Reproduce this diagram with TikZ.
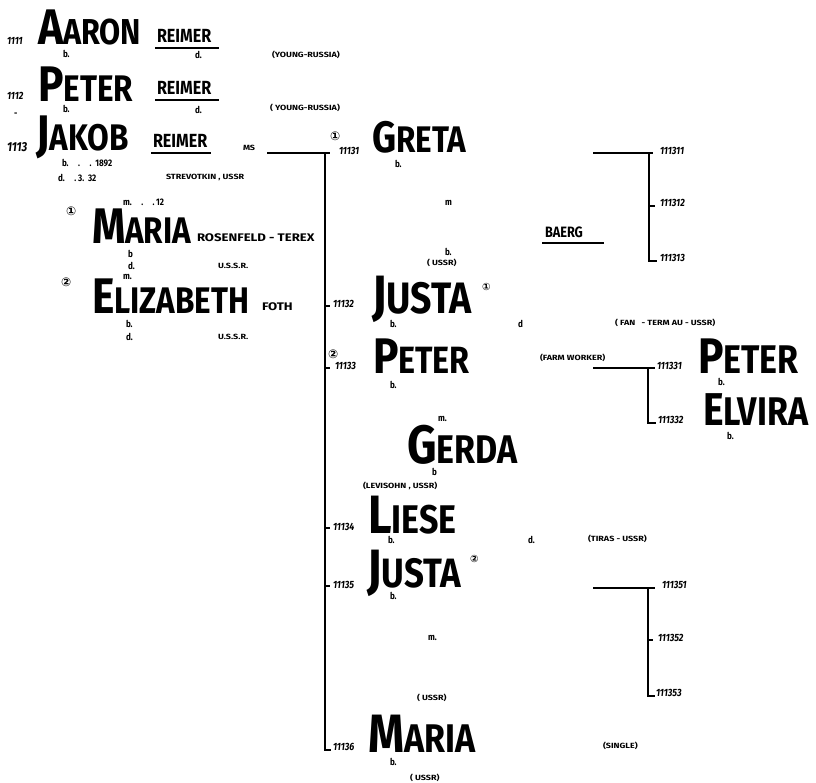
\documentclass[tikz,border=0pt]{standalone}
\usepackage{fontspec}
\setmainfont{Fira Sans}
\newfontfamily\hand[FakeStretch=0.85]{Fira Sans}
\newfontfamily\handwide[FakeStretch=1.2]{Fira Sans}
\newfontfamily\handnum[FakeStretch=0.85]{Fira Sans}
\newfontfamily\symf{DejaVu Sans}

% name in hand lettering: enlarged initial, then the rest
\newcommand\nmx[4]{{\hand\bfseries\fontsize{#1}{#1}\selectfont#3}{\hand\bfseries\fontsize{#2}{#2}\selectfont#4}}
\newcommand\nm[2]{\nmx{50}{37}{#1}{#2}}

\tikzset{
  every node/.style={inner sep=0pt, outer sep=0pt, anchor=base west},
  person/.style={text depth=0pt},
  tagno/.style={font=\handnum\bfseries\itshape\fontsize{10.5}{10.5}\selectfont},
  note/.style={font=\hand\bfseries\fontsize{9.5}{9.5}\selectfont, text depth=0pt},
  tinynote/.style={font=\handwide\bfseries\fontsize{7.5}{7.5}\selectfont},
  surname/.style={font=\hand\bfseries\fontsize{19}{19}\selectfont},
  midname/.style={font=\handwide\bfseries\fontsize{11}{11}\selectfont},
  circ/.style={font=\symf\bfseries\fontsize{12}{12}\selectfont},
  supcirc/.style={font=\symf\bfseries\fontsize{10}{10}\selectfont},
  link/.style={line width=1.4pt},
  under/.style={line width=1.2pt},
}

\begin{document}
\begin{tikzpicture}[x=1pt,y=-1pt]
\useasboundingbox (0,0) rectangle (816,783);

% ---------- generation 1111 - 1113 ----------
\node[tagno] (t1111) at (7,45) {1111};
\node[person] (aaron) at (38,45) {\nmx{50}{36}{A}{ARON}};
\node[note] (aaronb) at (63,58) {b.};
\node[surname] (reimerA) at (157,43) {REIMER};
\draw[under] (reimerA.base west) ++(-2,5) -- ++(64,0);
\node[note] (aarond) at (195,59) {d.};
\node[tinynote] (aaronp) at (272,58) {(YOUNG-RUSSIA)};

\node[tagno] (t1112) at (7,100) {1112};
\node[note] (dash) at (14,117) {-};
\node[person] (peterA) at (38,102) {\nm{P}{ETER}};
\node[note] (peterAb) at (63,113) {b.};
\node[surname] (reimerB) at (157,95) {REIMER};
\draw[under] (reimerB.base west) ++(-2,5) -- ++(64,0);
\node[note] (peterAd) at (195,114) {d.};
\node[tinynote] (peterAp) at (270,111) {( YOUNG-RUSSIA)};

\node[tagno,font=\handnum\bfseries\itshape\fontsize{13}{13}\selectfont] (t1113) at (7,152) {1113};
\node[person] (jakob) at (36,151) {\nm{J}{AKOB}};
\node[surname] (reimerC) at (153,148) {REIMER};
\draw[under] (reimerC.base west) ++(-2,5) -- ++(60,0);
\node[tinynote] (ms) at (243,151) {MS};
\node[note] (jakobb) at (62,167) {b.\quad.\quad.\ \ 1892};
\node[note] (jakobd) at (58,182) {d.\quad.\ 3.\ \ 32};
\node[tinynote] (jakobp) at (166,180) {STREVOTKIN , USSR};

% ---------- wives ----------
\node[circ] (w1) at (66,216) {①};
\node[note] (w1m) at (123,206) {m.\quad.\quad.\,12};
\node[person] (maria1) at (92,244) {\nmx{50}{37}{M}{ARIA}};
\node[midname] (maria1s) at (197,242) {ROSENFELD - TEREX};
\node[note] (maria1b) at (128,258) {b};
\node[note] (maria1d) at (128,270) {d.};
\node[tinynote] (maria1p) at (218,269) {U.S.S.R.};

\node[circ] (w2) at (61,287) {②};
\node[note] (w2m) at (123,280) {m.};
\node[person] (eliz) at (92,314) {\nmx{50}{37}{E}{LIZABETH}};
\node[midname] (foth) at (262,311) {FOTH};
\node[note] (elizb) at (126,327) {b.};
\node[note] (elizd) at (126,341) {d.};
\node[tinynote] (elizp) at (218,339) {U.S.S.R.};

% ---------- children 11131 - 11136 ----------
\coordinate (msend) at (267,153);
\coordinate (trunk) at (325,153);
\coordinate (trunkend) at (325,750);

\node[circ] (c1) at (330,141) {①};
\node[tagno] (t11131) at (339,155) {11131};
\node[person] (greta) at (372,153) {\nmx{44}{37}{G}{RETA}};
\node[note] (gretab) at (395,168) {b.};
\node[note] (gretam) at (445,206) {m};
\node[surname,font=\hand\bfseries\fontsize{15}{15}\selectfont] (baerg) at (545,238) {BAERG};
\draw[under] (baerg.base west) ++(-3,5) -- ++(62,0);
\node[note] (gretab2) at (445,256) {b.};
\node[tinynote] (gretap) at (427,266) {( USSR)};

\node[tagno] (t11132) at (333,308) {11132};
\node[person] (justa1) at (372,314) {\nmx{54}{44}{J}{USTA}};
\node[supcirc] (justa1c) at (482,291) {①};
\node[note] (justa1b) at (390,328) {b.};
\node[note] (justa1d) at (518,327) {d};
\node[tinynote] (justa1p) at (615,326) {( FAN \ \ - TERM AU - USSR)};

\node[circ] (c2) at (328,358) {②};
\node[tagno] (t11133) at (335,370) {11133};
\node[person] (peterB) at (373,373) {\nmx{50}{38}{P}{ETER}};
\node[note] (peterBb) at (390,388) {b.};
\node[tinynote] (peterBp) at (540,360) {(FARM WORKER)};
\node[note] (peterBm) at (438,421) {m.};
\node[person] (gerda) at (407,463) {\nmx{54}{40}{G}{ERDA}};
\node[note] (gerdab) at (432,475) {b};
\node[tinynote] (gerdap) at (363,488) {(LEVISOHN , USSR)};

\node[tagno] (t11134) at (333,530) {11134};
\node[person] (liese) at (368,533) {\nmx{54}{40}{L}{IESE}};
\node[note] (lieseb) at (388,543) {b.};
\node[note] (liesed) at (528,543) {d.};
\node[tinynote] (liesep) at (588,541) {(TIRAS - USSR)};

\node[tagno] (t11135) at (333,588) {11135};
\node[person] (justa2) at (367,587) {\nmx{54}{41}{J}{USTA}};
\node[supcirc] (justa2c) at (470,562) {②};
\node[note] (justa2b) at (390,599) {b.};
\node[note] (justa2m) at (428,640) {m.};
\node[tinynote] (justa2p) at (417,700) {( USSR)};

\node[tagno] (t11136) at (333,750) {11136};
\node[person] (maria2) at (368,752) {\nmx{54}{40}{M}{ARIA}};
\node[note] (maria2b) at (390,765) {b.};
\node[tinynote] (maria2p) at (410,780) {( USSR)};
\node[tinynote] (maria2s) at (603,748) {(SINGLE)};

% trunk line with ticks to each child
\draw[link] (msend) -- (trunk) -- ([xshift=5pt]trunk);
\draw[link] (trunk) -- (trunkend) -- ([xshift=-2pt]t11136.base west);
\foreach \c in {t11132,t11133,t11134,t11135}
  \draw[link] (trunk |- \c.base west) ++(0,-2) -- ++(5,0);

% ---------- grandchildren ----------
% of 11131
\coordinate (g1a) at (593,153);
\coordinate (g1b) at (649,153);
\node[tagno] (t111311) at (660,155) {111311};
\node[tagno] (t111312) at (660,207) {111312};
\node[tagno] (t111313) at (660,262) {111313};
\draw[link] (g1a) -- (g1b) -- ([xshift=4pt]g1b);
\draw[link] (g1b) -- (g1b |- t111313.base west) ++(0,-1) -- ([xshift=-3pt,yshift=1pt]t111313.base west);
\draw[link] (g1b |- t111312.base west) ++(0,-1) -- ++(6,0);

% of 11133
\coordinate (g3a) at (593,368);
\coordinate (g3b) at (648,368);
\node[tagno] (t111331) at (657,370) {111331};
\node[person] (peterC) at (698,373) {\nmx{50}{40}{P}{ETER}};
\node[note] (peterCb) at (718,385) {b.};
\node[tagno] (t111332) at (658,423) {111332};
\node[person] (elvira) at (703,425) {\nmx{46}{40}{E}{LVIRA}};
\node[note] (elvirab) at (727,439) {b.};
\draw[link] (g3a) -- (g3b) -- ([xshift=-2pt]t111331.base west |- g3b);
\draw[link] (g3b) -- (g3b |- t111332.base west) -- ([xshift=-2pt]t111332.base west);

% of 11135
\coordinate (g5a) at (593,588);
\coordinate (g5b) at (648,588);
\node[tagno] (t111351) at (662,588) {111351};
\node[tagno] (t111352) at (658,641) {111352};
\node[tagno] (t111353) at (656,696) {111353};
\draw[link] (g5a) -- (g5b) -- ([xshift=7pt]g5b);
\draw[link] (g5b) -- (g5b |- t111353.base west) -- ([xshift=-1pt]t111353.base west);
\draw[link] (g5b |- t111352.base west) ++(0,-1) -- ++(5,0);
\end{tikzpicture}
\end{document}
